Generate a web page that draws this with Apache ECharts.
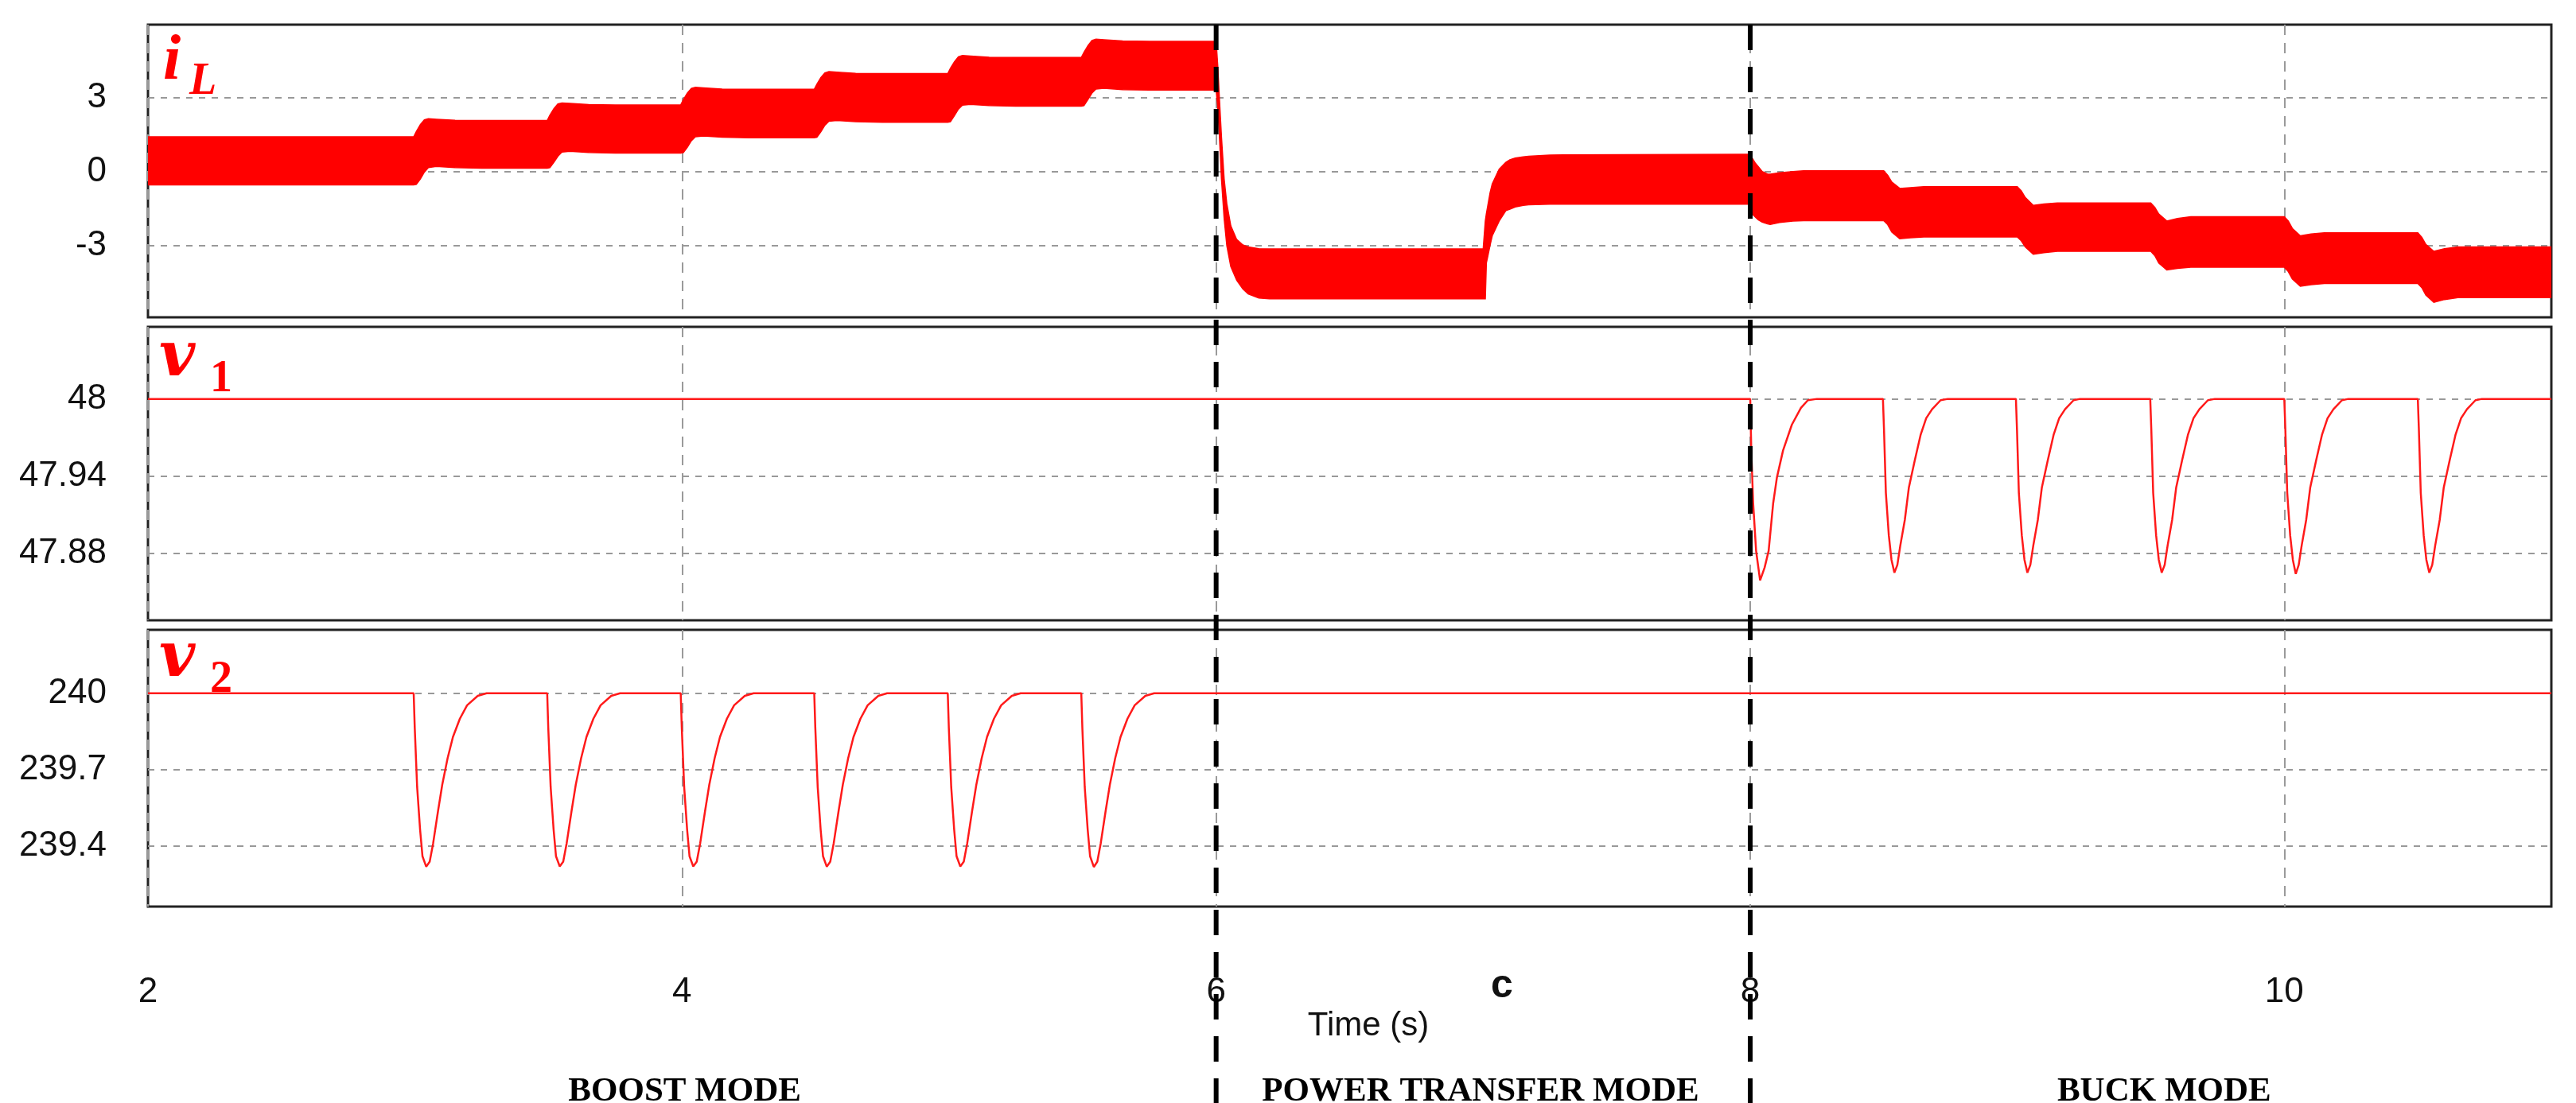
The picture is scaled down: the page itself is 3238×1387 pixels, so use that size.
<!DOCTYPE html>
<html>
<head>
<meta charset="utf-8">
<script src="https://cdn.jsdelivr.net/npm/echarts@6/dist/echarts.min.js"></script>
<style>
html,body{margin:0;padding:0;background:#fff;}
#c{width:3238px;height:1387px;}
</style>
</head>
<body>
<div id="c"></div>
<script>
// ---------------- data ----------------
const xTicks = [2, 4, 6, 8, 10];
const iLTicks = [-3, 0, 3];
const v1Ticks = [47.88, 47.94, 48];
const v2Ticks = [239.4, 239.7, 240];

const modeBoundaries = [6, 8];
const modeNames = ['BOOST MODE', 'POWER TRANSFER MODE', 'BUCK MODE'];
const modeCenters = [4.01, 6.99, 9.55];
const axisTitle = 'Time (s)';
const axisTitleAt = 6.57;
const markC = 'c';
const markCAt = 7.07;

// inductor current ripple envelope: [time, lower, upper]
const iLBoost = [
  [2.00,-0.54,1.41],[2.995,-0.54,1.41],[3.005,-0.52,1.62],[3.02,-0.30,1.90],[3.035,-0.02,2.10],
  [3.05,0.16,2.14],[3.08,0.21,2.12],[3.15,0.16,2.08],[3.25,0.14,2.07],[3.495,0.14,2.07],
  [3.505,0.16,2.28],[3.52,0.38,2.55],[3.535,0.62,2.74],[3.55,0.79,2.78],[3.58,0.82,2.76],
  [3.65,0.77,2.71],[3.75,0.75,2.70],[3.995,0.75,2.70],[4.005,0.77,2.91],[4.02,0.99,3.18],
  [4.035,1.25,3.37],[4.05,1.41,3.41],[4.08,1.44,3.39],[4.15,1.39,3.34],[4.25,1.37,3.33],
  [4.495,1.37,3.33],[4.505,1.39,3.54],[4.52,1.62,3.81],[4.535,1.88,4.00],[4.55,2.04,4.05],
  [4.58,2.07,4.03],[4.65,2.02,3.98],[4.75,2.00,3.97],[4.995,2.00,3.97],[5.005,2.02,4.18],
  [5.02,2.27,4.45],[5.035,2.53,4.65],[5.05,2.69,4.70],[5.08,2.72,4.68],[5.15,2.67,4.63],
  [5.25,2.65,4.62],[5.495,2.65,4.62],[5.505,2.67,4.83],[5.52,2.92,5.10],[5.535,3.18,5.31],
  [5.55,3.34,5.36],[5.58,3.37,5.34],[5.65,3.32,5.29],[5.75,3.30,5.27],[6.00,3.30,5.27]
];
const iLTransfer = [
  [6.006,2.6,4.3],[6.012,1.5,3.0],[6.02,-0.3,1.4],[6.03,-1.9,-0.3],[6.04,-3.0,-1.3],
  [6.055,-3.85,-2.2],[6.077,-4.4,-2.75],[6.10,-4.75,-2.97],[6.12,-4.95,-3.05],[6.16,-5.12,-3.12],
  [6.20,-5.15,-3.13],[7.00,-5.15,-3.13],[7.008,-5.15,-2.0],[7.012,-3.7,-1.7],[7.017,-3.45,-1.4],
  [7.026,-2.97,-0.85],[7.034,-2.6,-0.5],[7.06,-2.0,0.1],[7.085,-1.58,0.38],[7.10,-1.52,0.48],
  [7.12,-1.43,0.55],[7.15,-1.37,0.60],[7.17,-1.34,0.62],[7.25,-1.32,0.67],[7.30,-1.32,0.68],
  [8.00,-1.32,0.70]
];
const iLBuck = [
  [8.01,-1.74,0.50],[8.02,-1.85,0.33],[8.03,-1.95,0.20],[8.045,-2.05,0.00],[8.065,-2.12,-0.10],
  [8.075,-2.14,-0.10],[8.11,-2.06,-0.05],[8.16,-2.00,0.00],[8.20,-1.99,0.03],[8.50,-1.99,0.03],
  [8.515,-2.15,-0.15],[8.53,-2.45,-0.42],[8.56,-2.72,-0.68],[8.60,-2.68,-0.65],[8.65,-2.65,-0.61],
  [9.00,-2.65,-0.61],[9.015,-2.80,-0.78],[9.03,-3.05,-1.05],[9.06,-3.35,-1.37],[9.10,-3.28,-1.31],
  [9.15,-3.23,-1.27],[9.50,-3.23,-1.27],[9.515,-3.40,-1.45],[9.53,-3.70,-1.72],[9.56,-3.98,-2.00],
  [9.60,-3.92,-1.90],[9.65,-3.87,-1.83],[10.00,-3.87,-1.83],[10.015,-4.05,-2.00],[10.03,-4.35,-2.30],
  [10.06,-4.64,-2.60],[10.10,-4.58,-2.53],[10.15,-4.53,-2.48],[10.50,-4.53,-2.48],[10.515,-4.70,-2.66],
  [10.53,-5.00,-2.95],[10.56,-5.29,-3.23],[10.60,-5.18,-3.12],[10.65,-5.10,-3.05],[11.00,-5.10,-3.05]
];

// v1 : [time, value]
const v1 = [
  [2,48],[8.0,48],[8.004,47.96],[8.011,47.919],[8.022,47.882],[8.037,47.859],[8.054,47.869],
  [8.069,47.882],[8.086,47.919],[8.1,47.939],[8.123,47.96],[8.156,47.98],[8.19,47.993],[8.216,47.999],[8.25,48],
  [8.497,48],[8.501,47.976],[8.508,47.927],[8.519,47.894],[8.529,47.875],[8.54,47.865],[8.551,47.871],
  [8.562,47.886],[8.579,47.906],[8.594,47.931],[8.616,47.952],[8.638,47.972],[8.659,47.985],[8.681,47.992],[8.713,47.999],[8.74,48],
  [8.995,48],[8.999,47.976],[9.006,47.927],[9.017,47.894],[9.027,47.875],[9.038,47.865],[9.049,47.871],
  [9.06,47.886],[9.077,47.906],[9.092,47.931],[9.114,47.952],[9.136,47.972],[9.157,47.985],[9.179,47.992],[9.211,47.999],[9.235,48],
  [9.498,48],[9.502,47.976],[9.509,47.927],[9.52,47.894],[9.53,47.875],[9.541,47.865],[9.552,47.871],
  [9.563,47.886],[9.58,47.906],[9.595,47.931],[9.617,47.952],[9.639,47.972],[9.66,47.985],[9.682,47.992],[9.714,47.999],[9.74,48],
  [10.0,48],[10.004,47.976],[10.011,47.927],[10.022,47.894],[10.032,47.875],[10.043,47.864],[10.054,47.871],
  [10.065,47.886],[10.082,47.906],[10.097,47.931],[10.119,47.952],[10.141,47.972],[10.162,47.985],[10.184,47.992],[10.216,47.999],[10.24,48],
  [10.5,48],[10.504,47.976],[10.511,47.927],[10.522,47.894],[10.532,47.875],[10.543,47.865],[10.554,47.871],
  [10.565,47.886],[10.582,47.906],[10.597,47.931],[10.619,47.952],[10.641,47.972],[10.662,47.985],[10.684,47.992],[10.716,47.999],[10.74,48],
  [11,48]
];

// v2 : [time, value]
const v2 = [
  [2,240],
  [2.995,240],[2.999,239.864],[3.008,239.63],[3.019,239.463],[3.028,239.358],[3.042,239.317],[3.055,239.337],
  [3.068,239.41],[3.086,239.535],[3.102,239.64],[3.122,239.744],[3.142,239.828],[3.168,239.9],[3.195,239.953],[3.235,239.99],[3.268,240],
  [3.495,240],[3.499,239.864],[3.508,239.63],[3.519,239.463],[3.528,239.358],[3.542,239.318],[3.555,239.337],
  [3.568,239.41],[3.586,239.535],[3.602,239.64],[3.622,239.744],[3.642,239.828],[3.668,239.9],[3.695,239.953],[3.735,239.99],[3.768,240],
  [3.995,240],[3.999,239.864],[4.008,239.63],[4.019,239.463],[4.028,239.358],[4.042,239.318],[4.055,239.337],
  [4.068,239.41],[4.086,239.535],[4.102,239.64],[4.122,239.744],[4.142,239.828],[4.168,239.9],[4.195,239.953],[4.235,239.99],[4.268,240],
  [4.495,240],[4.499,239.864],[4.508,239.63],[4.519,239.463],[4.528,239.358],[4.542,239.317],[4.555,239.337],
  [4.568,239.41],[4.586,239.535],[4.602,239.64],[4.622,239.744],[4.642,239.828],[4.668,239.9],[4.695,239.953],[4.735,239.99],[4.768,240],
  [4.995,240],[4.999,239.864],[5.008,239.63],[5.019,239.463],[5.028,239.358],[5.042,239.318],[5.055,239.337],
  [5.068,239.41],[5.086,239.535],[5.102,239.64],[5.122,239.744],[5.142,239.828],[5.168,239.9],[5.195,239.953],[5.235,239.99],[5.268,240],
  [5.495,240],[5.499,239.864],[5.508,239.63],[5.519,239.463],[5.528,239.358],[5.542,239.316],[5.555,239.337],
  [5.568,239.41],[5.586,239.535],[5.602,239.64],[5.622,239.744],[5.642,239.828],[5.668,239.9],[5.695,239.953],[5.735,239.99],[5.768,240],
  [11,240]
];

// ---------------- chart ----------------
const RED = '#ff0000';
const iLRows = iLBoost.concat(iLTransfer, iLBuck);

const grids = [
  {left:186, right:31, top:31, height:368},
  {left:186, right:31, top:411, height:369},
  {left:186, right:31, top:792, height:348}
].map(g => Object.assign(g, {show:true, borderColor:'#222', borderWidth:3, backgroundColor:'transparent', containLabel:false}));

function xAxis(i, showLabels){
  return {
    gridIndex:i, type:'value', min:2, max:11,
    axisLine:{show:false},
    axisTick:{show:false, customValues:xTicks},
    axisLabel:{show:showLabels, customValues:xTicks, fontSize:44, color:'#111', margin:86, fontFamily:'Liberation Sans, Arial, sans-serif'},
    splitLine:{show:true, lineStyle:{color:'#9a9a9a', width:2, type:[13,10]}}
  };
}
function yAxis(i, min, max, ticks){
  return {
    gridIndex:i, type:'value', min:min, max:max,
    axisLine:{show:false},
    axisTick:{show:false, customValues:ticks},
    axisLabel:{customValues:ticks, fontSize:44, color:'#111', margin:52, fontFamily:'Liberation Sans, Arial, sans-serif'},
    splitLine:{show:true, lineStyle:{color:'#999', width:2, type:[8,8]}}
  };
}

const option = {
  animation:false,
  backgroundColor:'#fff',
  grid: grids,
  xAxis:[xAxis(0,false), xAxis(1,false), xAxis(2,true)],
  yAxis:[
    yAxis(0, -5.9, 5.95, iLTicks),
    yAxis(1, 47.828, 48.056, v1Ticks),
    yAxis(2, 239.16, 240.25, v2Ticks)
  ],
  series:[
    {
      type:'custom', xAxisIndex:0, yAxisIndex:0,
      data: iLRows, encode:{x:0, y:[1,2]}, clip:true, z:5,
      renderItem:function(params, api){
        if (params.dataIndexInside !== 0) return null;
        const n = params.dataInsideLength;
        const top = [], bot = [];
        for (let k = 0; k < n; k++) {
          top.push(api.coord([api.value(0,k), api.value(2,k)]));
          bot.push(api.coord([api.value(0,k), api.value(1,k)]));
        }
        return {type:'polygon', shape:{points: top.concat(bot.reverse())},
                style:{fill:RED, stroke:RED, lineWidth:1.5}};
      }
    },
    {type:'line', xAxisIndex:1, yAxisIndex:1, data:v1, showSymbol:false, clip:true,
     lineStyle:{color:'#ff1a1a', width:2.5}, z:5},
    {type:'line', xAxisIndex:2, yAxisIndex:2, data:v2, showSymbol:false, clip:true,
     lineStyle:{color:'#ff1a1a', width:2.5}, z:5}
  ]
};

const chart = echarts.init(document.getElementById('c'), null, {renderer:'canvas'});
chart.setOption(option);

const px = v => chart.convertToPixel({xAxisIndex:2}, v);
const gfx = [];
function txt(text, x, y, font, color, align, z){
  gfx.push({type:'text', z:z||50, style:{text:text, x:x, y:y, font:font, fill:color,
    align:align||'left', textAlign:align||'left', verticalAlign:'middle', textVerticalAlign:'middle'}});
}
// panel symbols
txt('i', 205, 78, 'italic bold 80px "Liberation Serif", serif', RED);
txt('L', 238, 104, 'italic bold 56px "Liberation Serif", serif', RED);
txt('v', 200, 452, 'italic bold 78px "DejaVu Serif", serif', RED);
txt('1', 264, 478, 'bold 56px "Liberation Serif", serif', RED);
txt('v', 200, 830, 'italic bold 78px "DejaVu Serif", serif', RED);
txt('2', 264, 856, 'bold 56px "Liberation Serif", serif', RED);
// axis title and marker
txt(axisTitle, px(axisTitleAt), 1290, '42px "Liberation Sans", Arial, sans-serif', '#111', 'center');
txt(markC, px(markCAt), 1240, 'bold 50px "Liberation Sans", Arial, sans-serif', '#111', 'center');
// mode labels
modeNames.forEach((m, i) => txt(m, px(modeCenters[i]), 1373, 'bold 43px "Liberation Serif", "Times New Roman", serif', '#000', 'center'));
// mode boundaries
modeBoundaries.forEach(b => {
  const x = px(b);
  gfx.push({type:'line', z:100, shape:{x1:x, y1:31, x2:x, y2:1387},
    style:{stroke:'#000', lineWidth:6, lineDash:[32,21]}});
});
chart.setOption({graphic: gfx});
</script>
</body>
</html>
